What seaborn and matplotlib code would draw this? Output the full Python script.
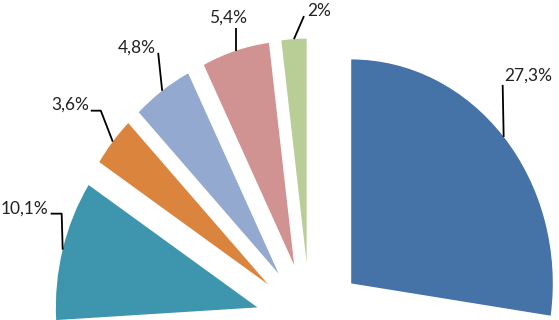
import numpy as np
import matplotlib
matplotlib.use("Agg")
import matplotlib.pyplot as plt
import seaborn as sns

# ---- data ----
labels = ["27,3%", "10,1%", "3,6%", "4,8%", "5,4%", "2%"]
shares = [27.3, 10.1, 3.6, 4.8, 5.4, 2.0]
colors = ["#4572A7", "#3D96AE", "#DB843D", "#93A9CF", "#D19392", "#B9CD96"]

sns.set_theme(style="white")
plt.rcParams["font.family"] = ["Lato", "DejaVu Sans"]

# hidden remainder of the pie (bottom, cropped / not shown)
rest = 100 - sum(shares)
values = [shares[0], rest] + shares[1:]
wcolors = [colors[0], "none"] + colors[1:]
explode_frac = 0.27

fig = plt.figure(figsize=(5.59, 3.2), dpi=100)
ax = fig.add_axes([0, 0, 1, 1])
wedges, _ = ax.pie(values, colors=wcolors, startangle=90, counterclock=False,
                   explode=[explode_frac] * len(values), radius=1.0,
                   center=(0, 0), wedgeprops=dict(linewidth=0))
ax.set_aspect("auto")
ax.set_xlim(-1.538, 1.235)
ax.set_ylim(0.0134, 1.442)
ax.axis("off")

# leader-line layout (pixel offsets from the arc point at mid-angle)
# (path points..., text offset, ha)
layout = {
    "27,3%": ([(-1, 52)], (1, 61), "left"),
    "2%": ([(10, 23)], (13, 28), "left"),
    "5,4%": ([(0, 23)], (-8, 33), "center"),
    "4,8%": ([(-4, 38)], (-6, 43), "right"),
    "3,6%": ([(-12, 31), (-22, 31)], (-24, 37), "right"),
    "10,1%": ([(-1, 36), (-12, 36)], (-14, 41), "right"),
}

vis = [w for w in wedges if w.get_facecolor()[3] > 0]
inv = ax.transData.inverted()
for w, lab in zip(vis, labels):
    th = np.deg2rad((w.theta1 + w.theta2) / 2)
    cx, cy = w.center
    ax_pt = np.array([cx + w.r * np.cos(th), cy + w.r * np.sin(th)])
    disp = ax.transData.transform(ax_pt)
    path, toff, ha = layout[lab]
    pts = [disp] + [disp + np.array(p) for p in path]
    dpts = inv.transform(np.array(pts))
    ax.plot(dpts[:, 0], dpts[:, 1], color="black", lw=1.3, solid_capstyle="butt")
    tpos = inv.transform(disp + np.array(toff))
    ax.text(tpos[0], tpos[1], lab, ha=ha, va="center", fontsize=12.5,
            color="#222222")

fig.savefig("out.png", dpi=100)
